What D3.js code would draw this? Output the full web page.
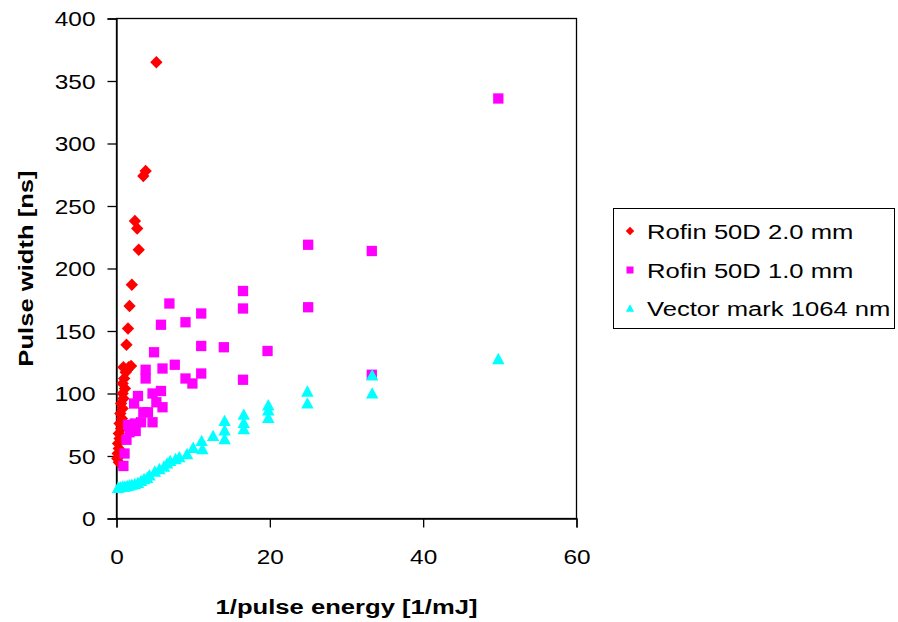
<!DOCTYPE html>
<html>
<head>
<meta charset="utf-8">
<script src="https://cdn.jsdelivr.net/npm/d3@7"></script>
<style>
  html, body { margin: 0; padding: 0; background: #fff; }
  svg { display: block; }
  text { font-family: "Liberation Sans", Arial, sans-serif; fill: #000; }
</style>
</head>
<body>
<svg id="chart" width="898" height="622"></svg>
<script>
// Series: [1/pulse energy (1/mJ), pulse width (ns)]
const rofin20 = [
  [5.2, 365], [3.8, 278], [3.5, 274], [2.4, 238], [2.7, 232], [2.9, 215],
  [2.0, 187], [1.7, 170], [1.5, 152], [1.3, 139], [1.9, 122], [1.6, 121],
  [1.4, 119], [1.2, 117], [0.9, 121], [1.0, 112], [0.8, 108], [1.1, 104],
  [0.8, 100], [0.9, 96], [0.6, 92], [0.8, 88], [0.5, 84], [0.7, 80],
  [0.4, 76], [0.6, 72], [0.3, 68], [0.4, 64], [0.2, 60], [0.3, 56],
  [0.15, 52], [0.1, 48], [0.3, 45]
];
const rofin10 = [
  [49.8, 336], [33.3, 214], [33.3, 115], [25, 219], [25, 169], [19.7, 134],
  [16.5, 182], [16.5, 168], [16.5, 111], [14.0, 137], [11.05, 164], [11.05, 138],
  [11.05, 116], [9.9, 108], [9.0, 157], [9.0, 112], [6.9, 172], [7.6, 123],
  [5.8, 155], [6.0, 120], [4.9, 133], [3.8, 119], [3.8, 112], [5.8, 102],
  [4.7, 100], [5.2, 93], [6.0, 89], [2.8, 98], [2.3, 92], [3.5, 85],
  [4.1, 85], [4.7, 77], [3.2, 77], [2.4, 76], [1.5, 75], [1.7, 69],
  [2.5, 70], [1.3, 63], [1.05, 52], [0.9, 42]
];
const vector1064 = [
  [0.2, 25], [0.5, 25.5], [0.8, 26], [1.1, 26], [1.4, 26.5], [1.7, 27],
  [2.0, 27.5], [2.4, 28], [2.8, 29], [3.2, 30.5], [3.6, 32], [4.0, 33],
  [4.3, 35], [5.0, 38], [5.6, 40], [6.2, 42], [6.6, 44.5], [7.0, 46.5],
  [7.7, 48], [8.2, 49.5], [9.2, 52], [10.0, 57], [11.2, 56], [11.1, 62.5],
  [12.6, 66.5], [14.1, 64], [14.1, 71], [14.1, 78.5], [16.6, 72], [16.6, 77],
  [16.6, 83.5], [19.8, 81], [19.8, 87], [19.8, 91], [24.9, 92.5], [24.9, 102],
  [33.35, 100.5], [33.35, 115], [49.8, 128]
];
const seriesNames = ["Rofin 50D 2.0 mm", "Rofin 50D 1.0 mm", "Vector mark 1064 nm"];
const seriesColors = ["#ff0000", "#ff00ff", "#00ffff"];
const xTicks = [0, 20, 40, 60];
const yTicks = [0, 50, 100, 150, 200, 250, 300, 350, 400];
const xTitle = "1/pulse energy [1/mJ]";
const yTitle = "Pulse width [ns]";

const svg = d3.select("#chart");
const plot = { left: 116.5, right: 576.5, top: 18.5, bottom: 518.5 };
const x = d3.scaleLinear().domain([0, 60]).range([plot.left, plot.right]);
const y = d3.scaleLinear().domain([0, 400]).range([plot.bottom, plot.top]);

// Text in this chart is rendered wide; stretch along the baseline.
const STRETCH = 1.22;

// Marker shapes
const diamond = { draw(ctx, size) { const r = Math.sqrt(size) / 2 * Math.SQRT2;
  ctx.moveTo(0, -r); ctx.lineTo(r, 0); ctx.lineTo(0, r); ctx.lineTo(-r, 0); ctx.closePath(); } };
const square = { draw(ctx, size) { const h = Math.sqrt(size) / 2;
  ctx.rect(-h, -h, 2 * h, 2 * h); } };
const triangle = { draw(ctx, size) { const w = Math.sqrt(size) / 2 * 1.1, hh = Math.sqrt(size) / 2;
  ctx.moveTo(0, -hh); ctx.lineTo(w, hh); ctx.lineTo(-w, hh); ctx.closePath(); } };
const shapes = [diamond, square, triangle];
const sizes = [76, 106, 128];
const legendSizes = [36, 49, 55];

// Plot frame
svg.append("rect")
  .attr("x", plot.left).attr("y", plot.top)
  .attr("width", plot.right - plot.left).attr("height", plot.bottom - plot.top)
  .attr("fill", "none").attr("stroke", "#000").attr("stroke-width", 1.3);

// Axes
const xAxis = svg.append("g").attr("transform", `translate(0,${plot.bottom})`)
  .call(d3.axisBottom(x).tickValues(xTicks).tickSize(9).tickFormat(d3.format("d")));
const yAxis = svg.append("g").attr("transform", `translate(${plot.left},0)`)
  .call(d3.axisLeft(y).tickValues(yTicks).tickSize(9).tickFormat(d3.format("d")));
[xAxis, yAxis].forEach(g => {
  g.select(".domain").attr("stroke", "#000").attr("stroke-width", 1.3);
  g.selectAll(".tick line").attr("stroke", "#000").attr("stroke-width", 1.3);
  g.selectAll(".tick text").attr("font-size", 20).attr("font-family", "Liberation Sans, Arial, sans-serif");
});
xAxis.selectAll(".tick text")
  .attr("y", 0).attr("dy", 0)
  .attr("transform", `translate(0,45) scale(${STRETCH},1)`);
yAxis.selectAll(".tick text")
  .attr("x", 0).attr("dy", "0.35em")
  .attr("transform", `translate(-21,0) scale(${STRETCH},1)`);

// Points
const data = [rofin20, rofin10, vector1064];
data.forEach((series, i) => {
  svg.append("g").selectAll("path").data(series).join("path")
    .attr("transform", d => `translate(${x(d[0])},${y(d[1])})`)
    .attr("d", d3.symbol().type(shapes[i]).size(sizes[i]))
    .attr("fill", seriesColors[i]);
});

// Axis titles
svg.append("text")
  .attr("transform", `translate(${(plot.left + plot.right) / 2},614) scale(${STRETCH},1)`)
  .attr("text-anchor", "middle").attr("font-size", 21).attr("font-weight", "bold")
  .text(xTitle);
svg.append("text")
  .attr("transform", `translate(33,${(plot.top + plot.bottom) / 2}) rotate(-90) scale(${STRETCH},1)`)
  .attr("text-anchor", "middle").attr("font-size", 21).attr("font-weight", "bold")
  .text(yTitle);

// Legend
const legend = svg.append("g");
legend.append("rect")
  .attr("x", 613.5).attr("y", 208.5).attr("width", 281).attr("height", 120)
  .attr("fill", "#fff").attr("stroke", "#000").attr("stroke-width", 1);
const rowY = [231, 270, 308];
seriesNames.forEach((name, i) => {
  legend.append("path")
    .attr("transform", `translate(630,${rowY[i]})`)
    .attr("d", d3.symbol().type(shapes[i]).size(legendSizes[i]))
    .attr("fill", seriesColors[i]);
  legend.append("text")
    .attr("transform", `translate(647,${rowY[i] + 7.5}) scale(${STRETCH},1)`)
    .attr("font-size", 21)
    .text(name);
});
</script>
</body>
</html>
